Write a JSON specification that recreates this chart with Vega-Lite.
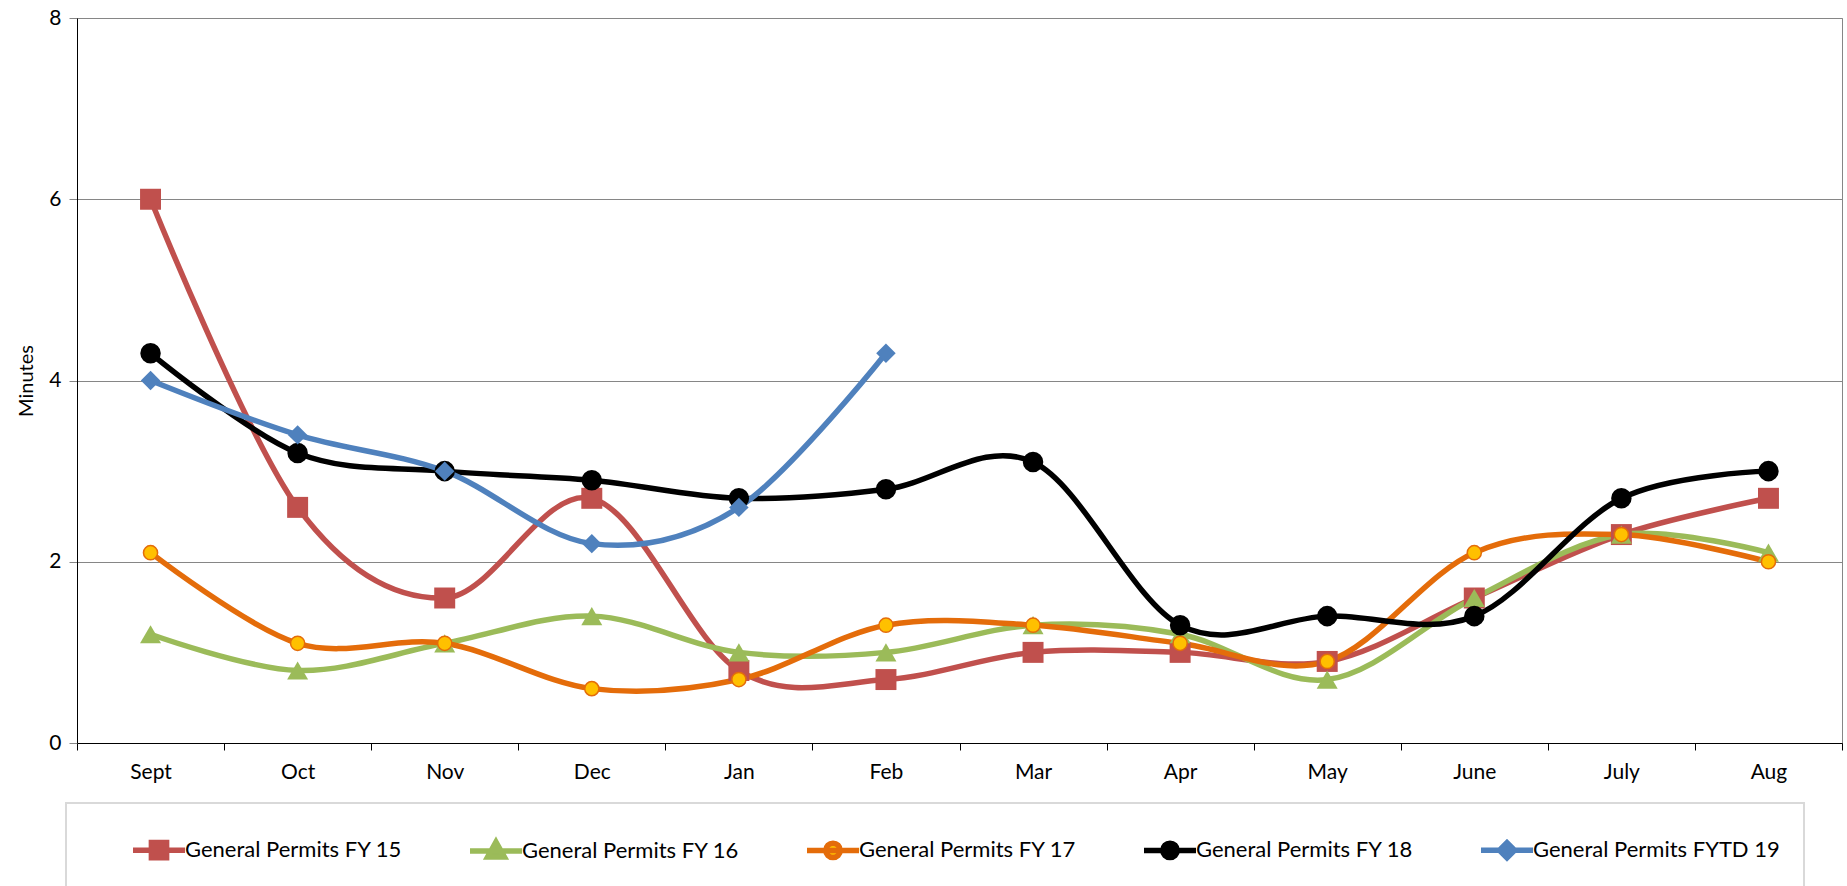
{
  "$schema": "https://vega.github.io/schema/vega-lite/v6.json",
  "width": 1765,
  "height": 725,
  "autosize": "none",
  "padding": {"left": 77, "top": 18, "right": 5, "bottom": 143},
  "background": "white",
  "config": {
    "font": "Lato",
    "view": {"stroke": "#868686", "strokeWidth": 1},
    "axis": {"labelFont": "Lato", "titleFont": "Lato", "labelColor": "#000", "titleColor": "#000"}
  },
  "data": {
    "values": [
      {"month": "Sept", "series": "General Permits FY 15", "value": 6.0},
      {"month": "Oct", "series": "General Permits FY 15", "value": 2.6},
      {"month": "Nov", "series": "General Permits FY 15", "value": 1.6},
      {"month": "Dec", "series": "General Permits FY 15", "value": 2.7},
      {"month": "Jan", "series": "General Permits FY 15", "value": 0.8},
      {"month": "Feb", "series": "General Permits FY 15", "value": 0.7},
      {"month": "Mar", "series": "General Permits FY 15", "value": 1.0},
      {"month": "Apr", "series": "General Permits FY 15", "value": 1.0},
      {"month": "May", "series": "General Permits FY 15", "value": 0.9},
      {"month": "June", "series": "General Permits FY 15", "value": 1.6},
      {"month": "July", "series": "General Permits FY 15", "value": 2.3},
      {"month": "Aug", "series": "General Permits FY 15", "value": 2.7},
      {"month": "Sept", "series": "General Permits FY 16", "value": 1.2},
      {"month": "Oct", "series": "General Permits FY 16", "value": 0.8},
      {"month": "Nov", "series": "General Permits FY 16", "value": 1.1},
      {"month": "Dec", "series": "General Permits FY 16", "value": 1.4},
      {"month": "Jan", "series": "General Permits FY 16", "value": 1.0},
      {"month": "Feb", "series": "General Permits FY 16", "value": 1.0},
      {"month": "Mar", "series": "General Permits FY 16", "value": 1.3},
      {"month": "Apr", "series": "General Permits FY 16", "value": 1.2},
      {"month": "May", "series": "General Permits FY 16", "value": 0.7},
      {"month": "June", "series": "General Permits FY 16", "value": 1.6},
      {"month": "July", "series": "General Permits FY 16", "value": 2.3},
      {"month": "Aug", "series": "General Permits FY 16", "value": 2.1},
      {"month": "Sept", "series": "General Permits FY 17", "value": 2.1},
      {"month": "Oct", "series": "General Permits FY 17", "value": 1.1},
      {"month": "Nov", "series": "General Permits FY 17", "value": 1.1},
      {"month": "Dec", "series": "General Permits FY 17", "value": 0.6},
      {"month": "Jan", "series": "General Permits FY 17", "value": 0.7},
      {"month": "Feb", "series": "General Permits FY 17", "value": 1.3},
      {"month": "Mar", "series": "General Permits FY 17", "value": 1.3},
      {"month": "Apr", "series": "General Permits FY 17", "value": 1.1},
      {"month": "May", "series": "General Permits FY 17", "value": 0.9},
      {"month": "June", "series": "General Permits FY 17", "value": 2.1},
      {"month": "July", "series": "General Permits FY 17", "value": 2.3},
      {"month": "Aug", "series": "General Permits FY 17", "value": 2.0},
      {"month": "Sept", "series": "General Permits FY 18", "value": 4.3},
      {"month": "Oct", "series": "General Permits FY 18", "value": 3.2},
      {"month": "Nov", "series": "General Permits FY 18", "value": 3.0},
      {"month": "Dec", "series": "General Permits FY 18", "value": 2.9},
      {"month": "Jan", "series": "General Permits FY 18", "value": 2.7},
      {"month": "Feb", "series": "General Permits FY 18", "value": 2.8},
      {"month": "Mar", "series": "General Permits FY 18", "value": 3.1},
      {"month": "Apr", "series": "General Permits FY 18", "value": 1.3},
      {"month": "May", "series": "General Permits FY 18", "value": 1.4},
      {"month": "June", "series": "General Permits FY 18", "value": 1.4},
      {"month": "July", "series": "General Permits FY 18", "value": 2.7},
      {"month": "Aug", "series": "General Permits FY 18", "value": 3.0},
      {"month": "Sept", "series": "General Permits FYTD 19", "value": 4.0},
      {"month": "Oct", "series": "General Permits FYTD 19", "value": 3.4},
      {"month": "Nov", "series": "General Permits FYTD 19", "value": 3.0},
      {"month": "Dec", "series": "General Permits FYTD 19", "value": 2.2},
      {"month": "Jan", "series": "General Permits FYTD 19", "value": 2.6},
      {"month": "Feb", "series": "General Permits FYTD 19", "value": 4.3}
    ]
  },
  "encoding": {
    "x": {
      "field": "month", "type": "ordinal",
      "sort": ["Sept", "Oct", "Nov", "Dec", "Jan", "Feb", "Mar", "Apr", "May", "June", "July", "Aug"],
      "scale": {"paddingInner": 0, "paddingOuter": 0},
      "axis": {"title": null, "labelAngle": 0, "tickBand": "extent", "domainColor": "#000", "tickColor": "#000", "tickSize": 7, "labelFontSize": 21, "labelPadding": 11, "grid": false}
    },
    "y": {
      "field": "value", "type": "quantitative",
      "scale": {"domain": [0, 8], "nice": false},
      "axis": {"title": "Minutes", "values": [0, 2, 4, 6, 8], "grid": true, "gridColor": "#868686", "domainColor": "#000", "tickColor": "#868686", "tickSize": 8, "labelFontSize": 21, "labelPadding": 8, "titleFontSize": 20, "titleFontWeight": "normal", "titlePadding": 12}
    }
  },
  "layer": [
    {
      "mark": {"type": "line", "interpolate": "cardinal"},
      "encoding": {
        "strokeWidth": {
          "field": "series", "type": "ordinal",
          "scale": {"domain": ["General Permits FY 15", "General Permits FY 16", "General Permits FY 17", "General Permits FY 18", "General Permits FYTD 19"], "range": [5.5, 5.5, 5.5, 4, 5]},
          "legend": null
        },
        "stroke": {
          "field": "series", "type": "nominal",
          "scale": {"domain": ["General Permits FY 15", "General Permits FY 16", "General Permits FY 17", "General Permits FY 18", "General Permits FYTD 19"], "range": ["#C0504D", "#9BBB59", "#E46C0A", "#000000", "#4F81BD"]},
          "legend": {
            "title": null, "orient": "none", "legendX": -11, "legendY": 785,
            "direction": "horizontal", "columns": 5,
            "strokeColor": "#d9d9d9", "padding": 24,
            "symbolSize": 1600, "symbolStrokeWidth": 3.5, "symbolOffset": 46,
            "labelOffset": 3, "columnPadding": 24,
            "labelFontSize": 22, "labelFont": "Lato", "labelColor": "#000", "labelLimit": 0,
            "encode": {
              "legend": {"update": {"strokeWidth": {"value": 2}}},
              "symbols": {"update": {
                "shape": {"signal": "datum.value === 'General Permits FY 15' ? 'M-1.3,0H1.3M-0.38,-0.38H0.38V0.38H-0.38Z' : datum.value === 'General Permits FY 16' ? 'M-1.3,0H1.3M0,-0.45L0.42,0.3H-0.42Z' : datum.value === 'General Permits FYTD 19' ? 'M-1.3,0H1.3M0,-0.38L0.38,0L0,0.38L-0.38,0Z' : 'M-1.3,0H1.3M0.36,0A0.36,0.36 0 1 1 -0.36,0A0.36,0.36 0 1 1 0.36,0Z'"},
                "fill": {"signal": "datum.value === 'General Permits FY 15' ? '#C0504D' : datum.value === 'General Permits FY 16' ? '#9BBB59' : datum.value === 'General Permits FY 17' ? '#FFC000' : datum.value === 'General Permits FY 18' ? '#000000' : '#4F81BD'"},
                "stroke": {"signal": "datum.value === 'General Permits FY 15' ? '#C0504D' : datum.value === 'General Permits FY 16' ? '#9BBB59' : datum.value === 'General Permits FY 17' ? '#E46C0A' : datum.value === 'General Permits FY 18' ? '#000000' : '#4F81BD'"},
                "strokeWidth": {"value": 4},
                "opacity": {"value": 1},
                "fillOpacity": {"value": 1}
              }}
            }
          }
        }
      }
    },
    {
      "transform": [{"filter": "datum.series === 'General Permits FY 15'"}],
      "mark": {"type": "point", "shape": "square", "filled": true, "size": 440, "color": "#C0504D", "opacity": 1}
    },
    {
      "transform": [{"filter": "datum.series === 'General Permits FY 16'"}],
      "mark": {"type": "point", "shape": "triangle-up", "filled": true, "size": 440, "color": "#9BBB59", "opacity": 1}
    },
    {
      "transform": [{"filter": "datum.series === 'General Permits FY 17'"}],
      "mark": {"type": "point", "shape": "circle", "filled": true, "size": 200, "fill": "#FFC000", "stroke": "#E46C0A", "strokeWidth": 1.5, "opacity": 1}
    },
    {
      "transform": [{"filter": "datum.series === 'General Permits FY 18'"}],
      "mark": {"type": "point", "shape": "circle", "filled": true, "size": 420, "color": "#000000", "opacity": 1}
    },
    {
      "transform": [{"filter": "datum.series === 'General Permits FYTD 19'"}],
      "mark": {"type": "point", "shape": "diamond", "filled": true, "size": 380, "color": "#4F81BD", "opacity": 1}
    }
  ]
}
